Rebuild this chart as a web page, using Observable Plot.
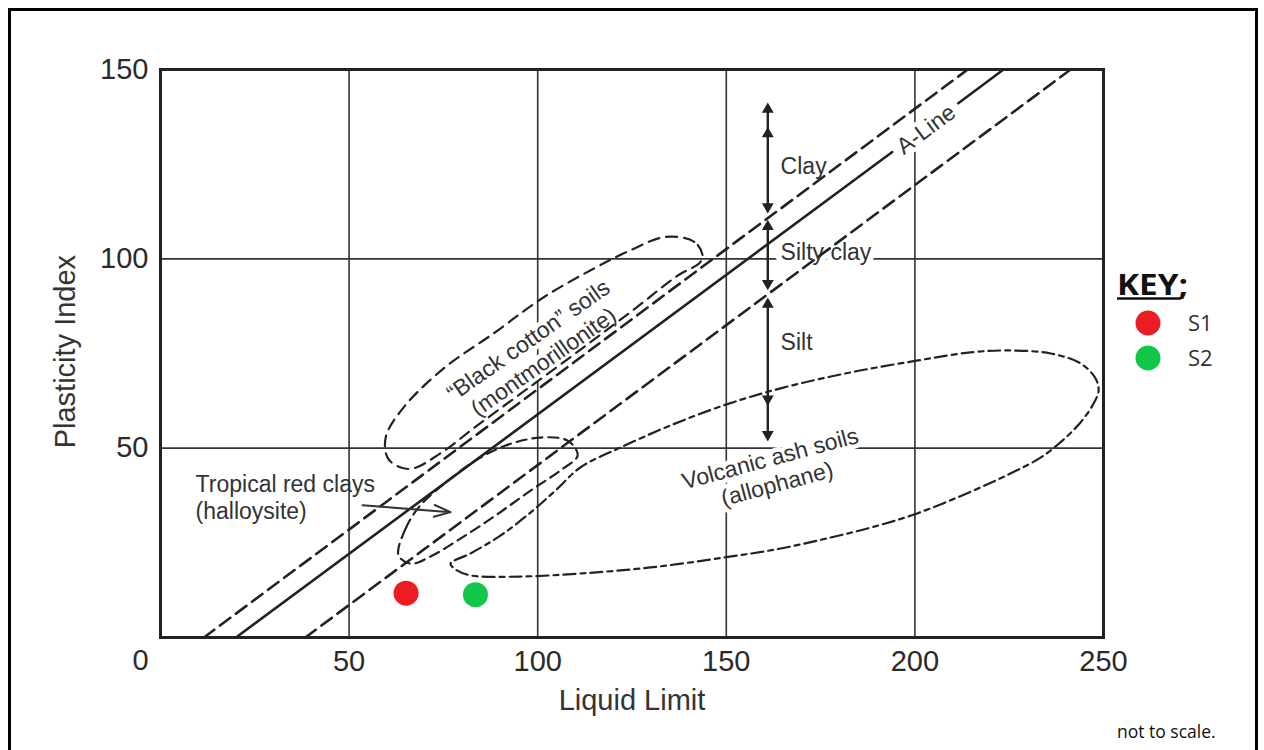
<!DOCTYPE html>
<html>
<head>
<meta charset="utf-8">
<script src="https://cdn.jsdelivr.net/npm/d3@7"></script>
<script src="https://cdn.jsdelivr.net/npm/@observablehq/plot@0.6"></script>
<style>
html, body { margin: 0; padding: 0; background: #fff; width: 1264px; height: 750px; overflow: hidden; }
#wrap { position: relative; width: 1264px; height: 750px; }
#border { position: absolute; left: 8px; top: 8px; width: 1250px; height: 780px; border: 3px solid #000; box-sizing: border-box; }
#wrap svg { position: absolute; left: 0; top: 0; }
</style>
</head>
<body>
<div id="wrap"><div id="border"></div></div>
<script>
// ---- axis ticks ----
const xTicks = [50, 100, 150, 200, 250];
const yTicks = [50, 100, 150];
const gridLL = [50, 100, 150, 200];
const gridPI = [50, 100];

// ---- straight lines (Liquid Limit, Plasticity Index) ----
const aLineLL = [20, 194, 211.5, 223.5];
const aLinePI = [0, 128.2, 141.1, 150];
const aLineSeg = [1, 1, 2, 2];
const upperLL = [11.5, 214];
const upperPI = [0, 150];
const lowerLL = [38.4, 241.3];
const lowerPI = [0, 150];

// ---- soil group outlines ----
const cottonLL = [143.7, 141.5, 134, 124, 115, 101.5, 88.3, 75, 64.4, 59.7, 60.5, 66, 74, 84, 97, 112, 126, 137, 143];
const cottonPI = [101, 104.5, 105.8, 102, 97.5, 89.8, 80.3, 71, 60.7, 52.8, 47, 44.5, 48.5, 56, 65.5, 76.5, 87, 95.5, 99];
const tropicalLL = [63.1, 65.0, 68.9, 75.6, 83.5, 91.5, 100.7, 107.9, 110.6, 106.0, 98.1, 88.8, 79.5, 71.6, 66.3];
const tropicalPI = [21.7, 28.8, 34.9, 40.9, 46.7, 50.7, 52.8, 52.0, 48.1, 44.1, 38.8, 32.2, 26.1, 21.4, 19.5];
const volcanicLL = [76.9, 82.2, 90.1, 98.1, 104.7, 111.3, 122.0, 135.2, 149.3, 164.4, 182.9, 200.4, 214.7, 225.1, 236.0, 243.9, 247.9, 248.7, 247.1, 243.9, 239.1, 233.3, 225.3, 215.5, 200.4, 188.2, 177.6, 164.4, 149.3, 129.9, 111.3, 95.4, 82.2, 78.2];
const volcanicPI = [19.5, 22.2, 26.9, 33.0, 38.8, 44.9, 50.2, 56.0, 61.3, 65.8, 70.0, 73.1, 75.3, 75.8, 75.0, 72.4, 68.4, 65.2, 61.3, 56.8, 52.0, 47.5, 43.3, 38.8, 32.7, 29.0, 26.4, 23.5, 21.1, 18.5, 16.9, 16.1, 16.4, 18.0];

// ---- Clay / Silty clay / Silt ranges at LL = 161 ----
const rangeLL = 161;
const rangeTop = [139.5, 108.5, 88];
const rangeBottom = [113.8, 93.5, 53.6];
const headUp = [139.5, 133, 108.5, 88];
const headDown = [113.8, 93.5, 63, 53.6];
const rangeLabels = ["Clay", "Silty clay", "Silt"];
const rangeLabelLL = 164.4;
const rangeLabelPI = [124.4, 101.7, 77.9];

// ---- annotations ----
const noteText = ["“Black cotton” soils\n(montmorillonite)", "Volcanic ash soils\n(allophane)", "A-Line"];
const noteLL = [99.4, 162.5, 202.8];
const notePI = [75.8, 44.1, 134.4];
const noteAngle = [-35, -15, -36.5];
const tropicalText = "Tropical red clays\n(halloysite)";
const tropicalTextLL = 9.3;
const tropicalTextPI = 37.2;
const tropicalArrowLL = [53.6, 76.9];
const tropicalArrowPI = [34.9, 33.1];
const xTitle = "Liquid Limit";
const yTitle = "Plasticity Index";
const yTitleLL = -25.2;
const yTitlePI = 75.5;

// ---- samples ----
const sampleNames = ["S1", "S2"];
const sampleLL = [65.1, 83.5];
const samplePI = [11.7, 11.3];
const sampleColors = ["#ec1c24", "#12c84a"];

const keyTitle = "KEY;";
const footNote = "not to scale.";

// ---- build tables ----
const pts = (xs, ys, extra) => xs.map((x, i) => ({ll: x, pi: ys[i], ...(extra ? {seg: extra[i]} : {})}));
const aLine = pts(aLineLL, aLinePI, aLineSeg);
const upper = pts(upperLL, upperPI);
const lower = pts(lowerLL, lowerPI);
const cotton = pts(cottonLL, cottonPI);
const tropical = pts(tropicalLL, tropicalPI);
const volcanic = pts(volcanicLL, volcanicPI);
const ranges = rangeTop.map((t, i) => ({ll: rangeLL, top: t, bottom: rangeBottom[i]}));
const heads = [...headUp.map(p => ({ll: rangeLL, pi: p, rot: 0})), ...headDown.map(p => ({ll: rangeLL, pi: p, rot: 180}))];
const rangeTxt = rangeLabels.map((t, i) => ({ll: rangeLabelLL, pi: rangeLabelPI[i], t}));
const notes = noteText.map((t, i) => ({ll: noteLL[i], pi: notePI[i], t, a: noteAngle[i]}));
const samples = sampleNames.map((n, i) => ({n, ll: sampleLL[i], pi: samplePI[i], c: sampleColors[i]}));

const INK = "#222";
const TXT = "#333";
const FONT = "'Liberation Sans', Arial, Helvetica, sans-serif";

const svg = Plot.plot({
  width: 1264,
  height: 750,
  marginLeft: 160,
  marginRight: 161,
  marginTop: 69,
  marginBottom: 113,
  x: {domain: [0, 250]},
  y: {domain: [0, 150]},
  style: {fontFamily: FONT, background: "transparent", overflow: "visible"},
  marks: [
    Plot.ruleX(gridLL, {stroke: "#333", strokeWidth: 1.6}),
    Plot.ruleY(gridPI, {stroke: "#333", strokeWidth: 1.6}),
    // labels break the grid lines beneath them
    Plot.text(rangeTxt, {x: "ll", y: "pi", text: "t", textAnchor: "start", fontSize: 23, fill: TXT, stroke: "white", strokeWidth: 12, paintOrder: "stroke"}),
    Plot.text(notes, {x: "ll", y: "pi", text: "t", rotate: "a", fontSize: 23, lineHeight: 1.15, fill: TXT, stroke: "white", strokeWidth: 9, paintOrder: "stroke"}),
    Plot.text([tropicalText], {x: () => tropicalTextLL, y: () => tropicalTextPI, text: d => d, textAnchor: "start", fontSize: 23, lineHeight: 1.2, fill: TXT}),
    Plot.line(upper, {x: "ll", y: "pi", stroke: INK, strokeWidth: 2.6, strokeDasharray: "13,7"}),
    Plot.line(lower, {x: "ll", y: "pi", stroke: INK, strokeWidth: 2.6, strokeDasharray: "13,7"}),
    Plot.line(aLine, {x: "ll", y: "pi", z: "seg", stroke: INK, strokeWidth: 2.6}),
    Plot.line(cotton, {x: "ll", y: "pi", curve: "catmull-rom-closed", stroke: INK, strokeWidth: 2.2, strokeDasharray: "11,7"}),
    Plot.line(tropical, {x: "ll", y: "pi", curve: "catmull-rom-closed", stroke: INK, strokeWidth: 2.2, strokeDasharray: "10,6"}),
    Plot.line(volcanic, {x: "ll", y: "pi", curve: "catmull-rom-closed", stroke: INK, strokeWidth: 2.2, strokeDasharray: "12,5,5,5"}),
    Plot.ruleX(ranges, {x: "ll", y1: "top", y2: "bottom", stroke: INK, strokeWidth: 2.4}),
    Plot.dot(heads, {x: "ll", y: "pi", symbol: "triangle", r: 4.4, rotate: "rot", fill: INK, stroke: "none"}),
    Plot.arrow([0], {x1: () => tropicalArrowLL[0], y1: () => tropicalArrowPI[0], x2: () => tropicalArrowLL[1], y2: () => tropicalArrowPI[1], stroke: "#333", strokeWidth: 2, headLength: 13, headAngle: 40}),
    Plot.dot(samples, {x: "ll", y: "pi", r: 12.5, fill: "c", stroke: "none"}),
    Plot.frame({stroke: INK, strokeWidth: 3}),
    Plot.axisX({ticks: xTicks, tickSize: 0, tickPadding: 13, fontSize: 29, color: "#2a2a2a", label: null}),
    Plot.axisY({ticks: yTicks, tickSize: 0, tickPadding: 12, fontSize: 29, color: "#2a2a2a", label: null}),
    Plot.text(["0"], {x: () => 0, y: () => 0, text: d => d, dx: -20, dy: 23, fontSize: 29, fill: "#2a2a2a"}),
    Plot.text([xTitle], {frameAnchor: "bottom", text: d => d, dy: 72, fontSize: 29, fill: TXT}),
    Plot.text([yTitle], {x: () => yTitleLL, y: () => yTitlePI, text: d => d, rotate: -90, fontSize: 29, fill: TXT})
  ]
});
document.getElementById("wrap").appendChild(svg);

// ---- key (legend) and note ----
const g = d3.select(svg).append("g").attr("font-family", "'Open Sans', 'Noto Sans', sans-serif").attr("text-anchor", "start");
g.append("text").attr("x", 1117).attr("y", 295).attr("font-size", 29).attr("font-weight", 700)
  .attr("fill", "#111").attr("textLength", 71).attr("lengthAdjust", "spacingAndGlyphs").text(keyTitle);
g.append("line").attr("x1", 1117).attr("x2", 1181).attr("y1", 298.5).attr("y2", 298.5).attr("stroke", "#111").attr("stroke-width", 2.5);
const items = g.selectAll("g.item").data(samples).join("g").attr("class", "item")
  .attr("transform", (d, i) => `translate(0,${i * 35})`);
items.append("circle").attr("cx", 1148).attr("cy", 323).attr("r", 12.5).attr("fill", d => d.c);
items.append("text").attr("x", 1188).attr("y", 331).attr("font-size", 22).attr("fill", "#333").text(d => d.n);
g.append("text").attr("x", 1117).attr("y", 738).attr("font-size", 17.5).attr("fill", "#111").text(footNote);
</script>
</body>
</html>
